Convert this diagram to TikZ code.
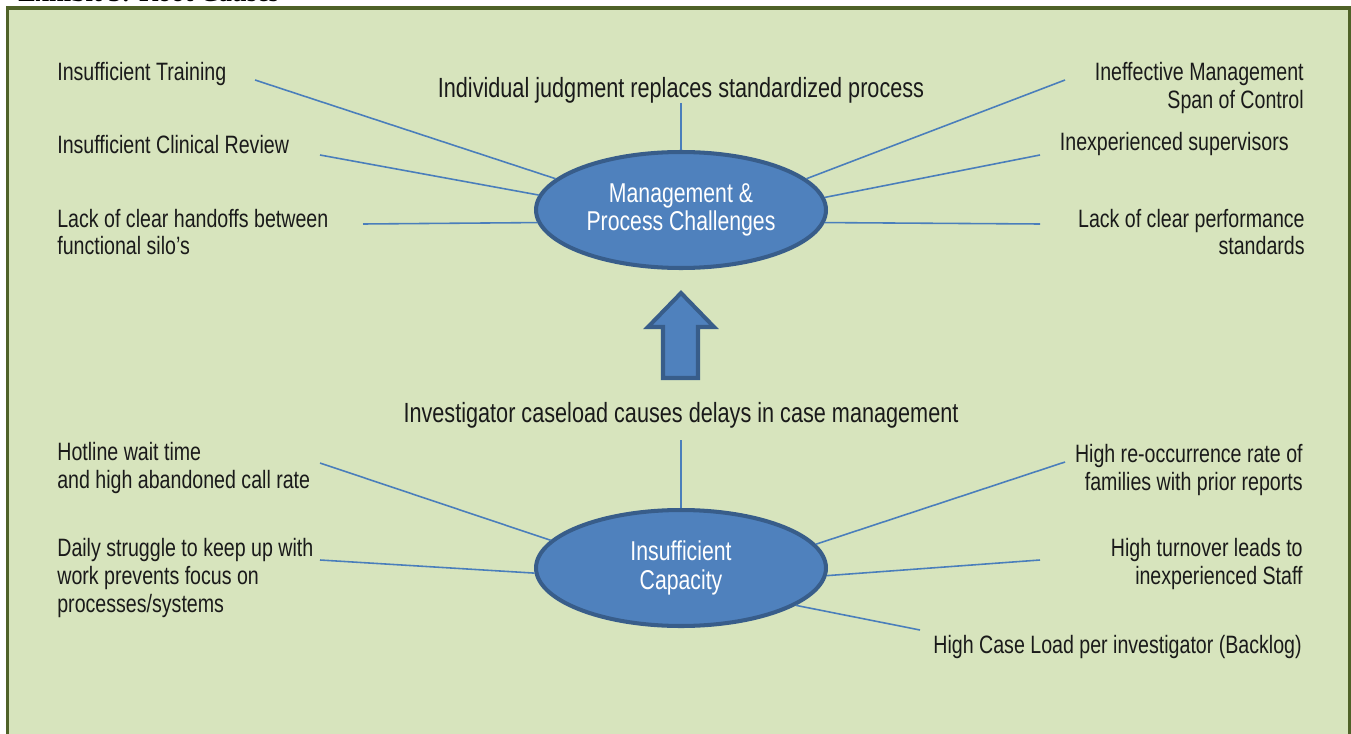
\documentclass[tikz,border=0pt]{standalone}
\usepackage{fontspec}
\setmainfont{Liberation Sans}[FakeStretch=0.78]
\newfontfamily\titlefont{Liberation Serif}
\usetikzlibrary{shapes.geometric}

\definecolor{panelgreen}{HTML}{D7E4BD}
\definecolor{panelframe}{HTML}{4F6228}
\definecolor{bubblefill}{HTML}{4F81BD}
\definecolor{bubbleline}{HTML}{385D8A}
\definecolor{spoke}{HTML}{4A7EBB}
\definecolor{labeltext}{HTML}{1A1A1A}

\tikzset{
  bubble/.style={ellipse, draw=bubbleline, fill=bubblefill, line width=2.3pt,
    minimum width=5.8cm, minimum height=2.32cm, inner sep=0pt, align=center,
    text=white, font=\fontsize{15.5}{16}\selectfont},
  cause/.style={inner sep=0pt, text=labeltext, font=\fontsize{14.3}{15.9}\selectfont},
  leftcause/.style={cause, anchor=west, align=left},
  rightcause/.style={cause, anchor=east, align=right},
  headline/.style={inner sep=0pt, text=labeltext, font=\fontsize{15.8}{17}\selectfont},
  spokeline/.style={draw=spoke, line width=0.9pt}
}

\begin{document}
\begin{tikzpicture}[x=0.02cm, y=-0.02cm]
\useasboundingbox (0,0) rectangle (1351,733);
% panel
\fill[white] (0,0) rectangle (1351,733);
\begin{scope}
  \clip (0,0) rectangle (1351,733);
  \node[anchor=base west, inner sep=0pt, font=\titlefont\bfseries\fontsize{15}{16}\selectfont] (exhibit) at (18,1.5) {Exhibit 3: Root Causes};
  \draw[panelframe, fill=panelgreen, line width=1.8pt] (7.5,8) rectangle (1349.5,760);
\end{scope}

% the two bubbles and the arrow between them
\node[bubble] (mpc) at (681,210) {Management \&\\Process Challenges};
\node[bubble] (ic) at (681,568) {Insufficient\\Capacity};
\draw[bubbleline, fill=bubblefill, line width=2.3pt, line join=miter]
  (681,293) -- (714,327) -- (698,327) -- (698,378) -- (663,378) -- (663,327) -- (648,327) -- cycle;

% causes around the upper bubble
\node[headline] (judg) at (681,90) {Individual judgment replaces standardized process};
\node[leftcause] (train) at (57,74) {Insufficient Training};
\node[leftcause] (clin) at (57,145) {Insufficient Clinical Review};
\node[leftcause] (hand) at (57,232) {Lack of clear handoffs between\\functional silo's};
\node[rightcause] (span) at (1304,88) {Ineffective Management\\Span of Control};
\node[rightcause] (sup) at (1289,144) {Inexperienced supervisors};
\node[rightcause] (perf) at (1305,232) {Lack of clear performance\\standards};

\coordinate (judg-end) at (681,103);
\coordinate (train-end) at (255,80);
\coordinate (clin-end) at (320,155);
\coordinate (hand-end) at (363,224);
\coordinate (span-end) at (1065,80);
\coordinate (sup-end) at (1040,155);
\coordinate (perf-end) at (1040,224);

\draw[spokeline] (judg-end) -- (mpc.north);
\draw[spokeline] (train-end) -- (mpc.166.6);
\draw[spokeline] (clin-end) -- (mpc.174.8);
\draw[spokeline] (hand-end) -- (mpc.185.5);
\draw[spokeline] (span-end) -- (mpc.14.5);
\draw[spokeline] (sup-end) -- (mpc.5.1);
\draw[spokeline] (perf-end) -- (mpc.-5.5);

% causes around the lower bubble
\node[headline] (case) at (681,415) {Investigator caseload causes delays in case management};
\node[leftcause] (hot) at (57,468) {Hotline wait time\\and high abandoned call rate};
\node[leftcause] (daily) at (57,578) {Daily struggle to keep up with\\work prevents focus on\\processes/systems};
\node[rightcause] (recur) at (1303,470) {High re-occurrence rate of\\families with prior reports};
\node[rightcause] (turn) at (1303,564) {High turnover leads to\\inexperienced Staff};
\node[rightcause] (load) at (1302,647) {High Case Load per investigator (Backlog)};

\coordinate (case-end) at (681,440);
\coordinate (hot-end) at (320,463);
\coordinate (daily-end) at (320,560);
\coordinate (recur-end) at (1065,462);
\coordinate (turn-end) at (1040,560);
\coordinate (load-end) at (920,630);

\draw[spokeline] (case-end) -- (ic.north);
\draw[spokeline] (hot-end) -- (ic.168.8);
\draw[spokeline] (daily-end) -- (ic.182.7);
\draw[spokeline] (recur-end) -- (ic.10.2);
\draw[spokeline] (turn-end) -- (ic.-3.2);
\draw[spokeline] (load-end) -- (ic.-18.3);
\end{tikzpicture}
\end{document}
